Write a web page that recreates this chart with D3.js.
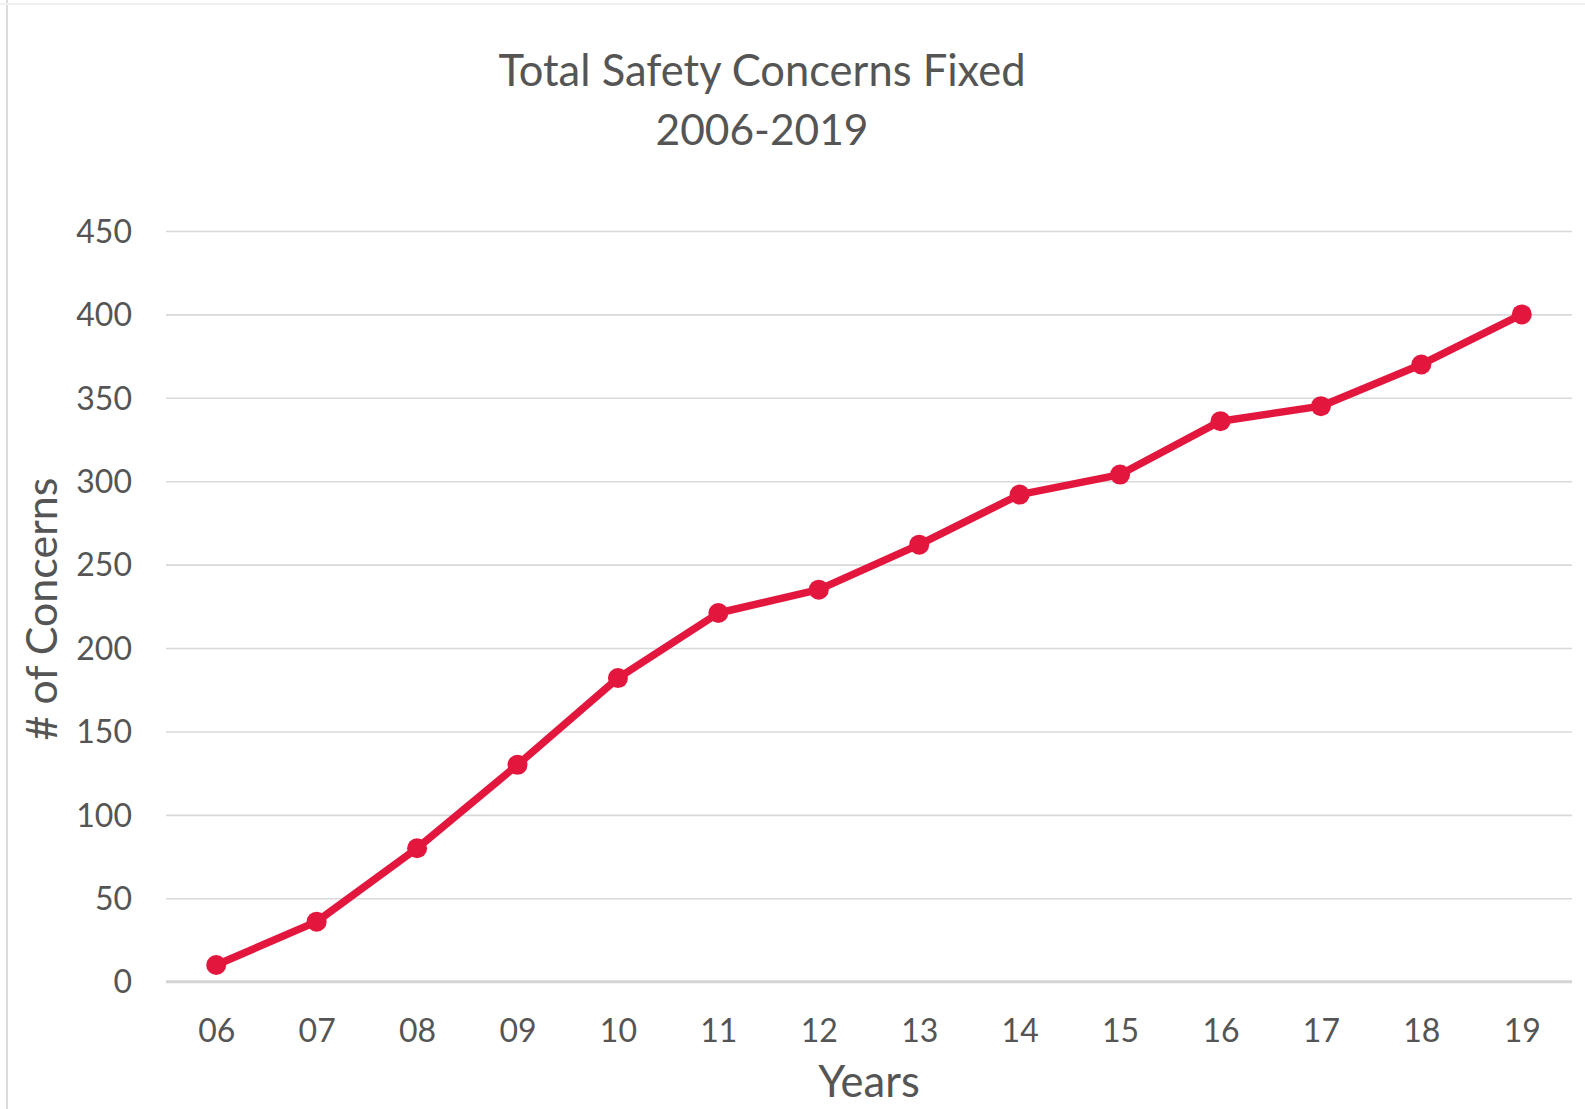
<!DOCTYPE html>
<html>
<head>
<meta charset="utf-8">
<script src="https://cdn.jsdelivr.net/npm/d3@7"></script>
<style>
  html, body { margin: 0; padding: 0; background: #ffffff; }
  svg { display: block; }
</style>
</head>
<body>
<svg id="chart" width="1585" height="1109"></svg>
<script>
const years = ["06","07","08","09","10","11","12","13","14","15","16","17","18","19"];
const concerns = [10, 36, 80, 130, 182, 221, 235, 262, 292, 304, 336, 345, 370, 400];
const yTicks = [0, 50, 100, 150, 200, 250, 300, 350, 400, 450];
const titleLines = ["Total Safety Concerns Fixed", "2006-2019"];
const yAxisTitle = "# of Concerns";
const xAxisTitle = "Years";

(function () {
const W = 1585, H = 1109;
const plotLeft = 166, plotRight = 1572, plotTop = 231, plotBottom = 981.7;
const font = "Lato, 'Open Sans', sans-serif";
const textColor = "#555555";
const lineColor = "#e3173e";

const svg = d3.select("#chart");
svg.append("rect").attr("width", W).attr("height", H).attr("fill", "#fff");

// faint scan border
svg.append("line").attr("x1", 7).attr("x2", 7).attr("y1", 0).attr("y2", H)
  .attr("stroke", "#dcdcdc").attr("stroke-width", 2);
svg.append("line").attr("x1", 0).attr("x2", W).attr("y1", 4).attr("y2", 4)
  .attr("stroke", "#f0f0f0").attr("stroke-width", 2);

const x = d3.scalePoint().domain(years).range([plotLeft, plotRight]).padding(0.5);
const y = d3.scaleLinear().domain([0, 450]).range([plotBottom, plotTop]);

// gridlines
const grid = svg.append("g")
  .attr("transform", `translate(${plotLeft},0)`)
  .call(d3.axisLeft(y).tickValues(yTicks.filter(d => d > 0)).tickSize(-(plotRight - plotLeft)).tickFormat(""));
grid.select(".domain").remove();
grid.selectAll(".tick line").attr("stroke", "#d9d9d9").attr("stroke-width", 1.6);

// y axis labels
const yAxis = svg.append("g")
  .attr("transform", `translate(132,0)`)
  .call(d3.axisLeft(y).tickValues(yTicks).tickSize(0).tickPadding(0));
yAxis.select(".domain").remove();
yAxis.selectAll(".tick text")
  .attr("font-family", font).attr("font-size", 32).attr("fill", textColor)
  .attr("text-anchor", "end").attr("dy", "0.35em");

// x axis baseline
const xAxis = svg.append("g")
  .attr("transform", `translate(0,${plotBottom})`)
  .call(d3.axisBottom(x).tickSize(0).tickPadding(0));
xAxis.select(".domain").attr("d", `M${plotLeft},0H${plotRight}`)
  .attr("stroke", "#d3d3d3").attr("stroke-width", 3);
xAxis.selectAll(".tick text")
  .attr("font-family", font).attr("font-size", 32).attr("fill", textColor)
  .attr("y", 60).attr("dy", 0);

// line
const line = d3.line().x((d, i) => x(years[i])).y(d => y(d));
svg.append("path").datum(concerns)
  .attr("d", line).attr("fill", "none")
  .attr("stroke", lineColor).attr("stroke-width", 7.5)
  .attr("stroke-linejoin", "round").attr("stroke-linecap", "round");

svg.append("g").selectAll("circle").data(concerns).join("circle")
  .attr("cx", (d, i) => x(years[i])).attr("cy", d => y(d))
  .attr("r", 10).attr("fill", lineColor);

// title
svg.append("text").attr("x", 762).attr("y", 86)
  .attr("text-anchor", "middle").attr("font-family", font).attr("font-size", 43.5)
  .attr("fill", textColor).text(titleLines[0]);
svg.append("text").attr("x", 762).attr("y", 145)
  .attr("text-anchor", "middle").attr("font-family", font).attr("font-size", 42.5)
  .attr("fill", textColor).text(titleLines[1]);

// axis titles
svg.append("text").attr("transform", "translate(57,609) rotate(-90)")
  .attr("text-anchor", "middle").attr("font-family", font).attr("font-size", 43)
  .attr("fill", textColor).text(yAxisTitle);
svg.append("text").attr("x", 869).attr("y", 1097)
  .attr("text-anchor", "middle").attr("font-family", font).attr("font-size", 43.5)
  .attr("fill", textColor).text(xAxisTitle);
})();
</script>
</body>
</html>
